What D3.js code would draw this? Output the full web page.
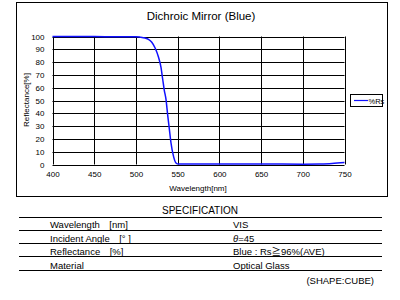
<!DOCTYPE html>
<html><head><meta charset="utf-8">
<script src="https://cdn.jsdelivr.net/npm/d3@7"></script>
<style>body{margin:0;background:#fff}svg{display:block}text{font-family:"Liberation Sans",Arial,"Noto Sans CJK JP",sans-serif;fill:#000}</style>
</head><body><svg id="c" width="400" height="300"></svg>
<script>
const wavelengths = [400,450,475,500,505,511,515,519,523,527,530,532,534,536,538,540,542,545,548,551,560,600,650,700,720,735,750];
const reflectance = [100,100,99.8,99.8,99.5,98.8,97.8,95.5,91,84,76,67,58,51,39,28,17,6.5,1.2,0.3,0.3,0.3,0.4,0.2,0.3,0.8,1.5];
const xTicks = [400,450,500,550,600,650,700,750];
const yTicks = [0,10,20,30,40,50,60,70,80,90,100];
const seriesName = "%Rs";
const title = "Dichroic Mirror (Blue)";
const specLabels = ["Wavelength\u3000[nm]","Incident Angle\u3000[\u00b0 ]","Reflectance\u3000[%]","Material"];
const specValues = ["VIS","\u03b8=45","Blue : Rs\u226796%(AVE)","Optical Glass"];

const svg = d3.select("#c");
svg.append("rect").attr("x",16.5).attr("y",2.5).attr("width",371).attr("height",194).attr("fill","none").attr("stroke","#000");
svg.append("text").attr("x",201).attr("y",20).attr("text-anchor","middle").attr("font-size",11.5).text(title);

const x = d3.scaleLinear().domain([400,750]).range([52.5,344.5]);
const y = d3.scaleLinear().domain([0,100]).range([164.5,36.5]);

const g = svg.append("g");
g.selectAll("line.h").data(yTicks).join("line").attr("x1",x(400)).attr("x2",x(750)).attr("y1",d=>Math.round(y(d))+0.5).attr("y2",d=>Math.round(y(d))+0.5).attr("stroke","#000");
g.selectAll("line.v").data(xTicks).join("line").attr("y1",y(0)).attr("y2",y(100)).attr("x1",d=>Math.round(x(d))+0.5).attr("x2",d=>Math.round(x(d))+0.5).attr("stroke","#000");

const xa = svg.append("g").attr("transform",`translate(0,${y(0)})`).call(d3.axisBottom(x).tickValues(xTicks).tickSize(0).tickPadding(7));
const ya = svg.append("g").attr("transform",`translate(${x(400)},0)`).call(d3.axisLeft(y).tickValues(yTicks).tickSize(0).tickPadding(8));
[xa,ya].forEach(a=>{a.select(".domain").remove();a.selectAll("text").attr("font-size",8).attr("font-family","Liberation Sans,Arial,sans-serif");});

svg.append("path").datum(wavelengths.map((w,i)=>[w,reflectance[i]]))
  .attr("d",d3.line().x(d=>x(d[0])).y(d=>y(d[1])).curve(d3.curveMonotoneX))
  .attr("fill","none").attr("stroke","#1010ff").attr("stroke-width",1.5);

svg.append("text").attr("x",198).attr("y",191).attr("text-anchor","middle").attr("font-size",8).text("Wavelength[nm]");
svg.append("text").attr("transform","translate(29,100) rotate(-90)").attr("text-anchor","middle").attr("font-size",8).text("Reflectance[%]");

svg.append("rect").attr("x",350.5).attr("y",94.5).attr("width",32).attr("height",12).attr("fill","#fff").attr("stroke","#000");
svg.append("line").attr("x1",354).attr("x2",368).attr("y1",100.5).attr("y2",100.5).attr("stroke","#1010ff").attr("stroke-width",1.2);
svg.append("text").attr("x",368.5).attr("y",103.5).attr("font-size",7.5).text(seriesName);

// spec table
svg.append("text").attr("x",200).attr("y",214).attr("text-anchor","middle").attr("font-size",10).text("SPECIFICATION");
const lineYs = [217.5,230.5,243.5,256.5,270.5];
svg.selectAll("line.t").data(lineYs).join("line").attr("x1",19).attr("x2",382).attr("y1",d=>d).attr("y2",d=>d).attr("stroke","#000").attr("stroke-width",1);
svg.selectAll("text.l").data(specLabels).join("text").attr("x",50).attr("y",(d,i)=>228+i*13.5).attr("font-size",9.5).text(d=>d);
svg.selectAll("text.r").data(specValues).join("text").attr("x",233).attr("y",(d,i)=>228+i*13.5).attr("font-size",9.5)
  .each(function(d){
    const t = d3.select(this);
    if (d.startsWith("\u03b8")) {
      t.append("tspan").attr("font-style","italic").text("\u03b8");
      t.append("tspan").text(d.slice(1));
    } else t.text(d);
  });
svg.append("text").attr("x",374).attr("y",284).attr("text-anchor","end").attr("font-size",9.5).text("(SHAPE:CUBE)");
</script></body></html>
